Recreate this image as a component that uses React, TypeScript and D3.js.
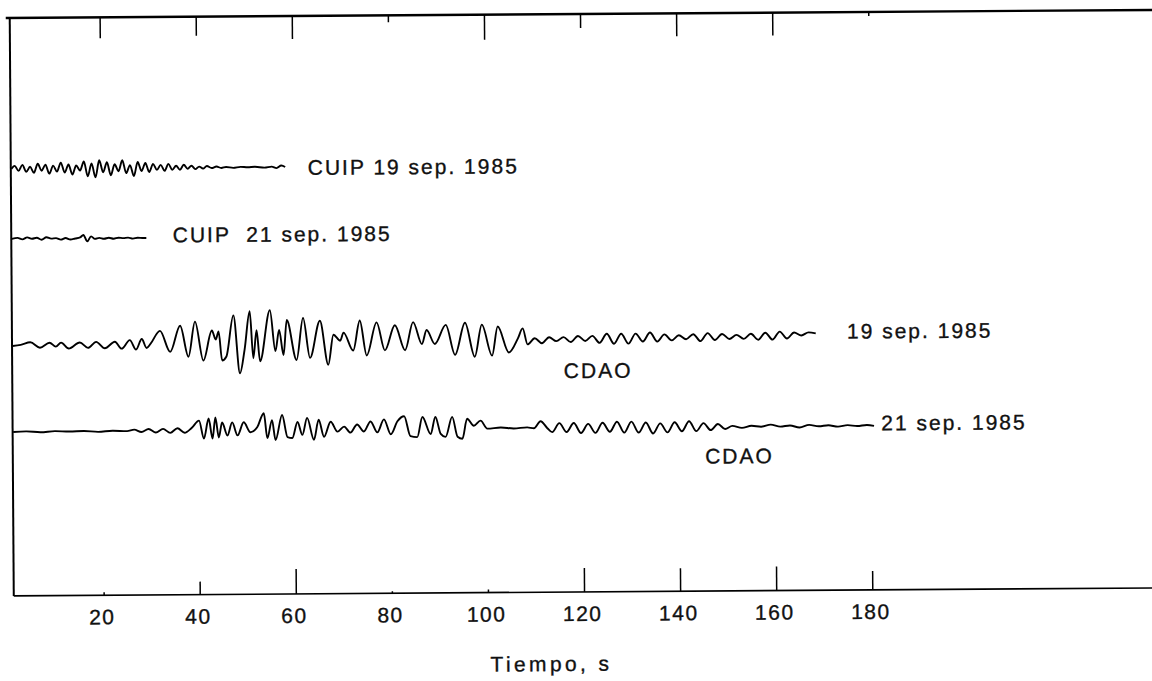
import * as d3 from "d3";

// tiempo (s) y amplitud (px) de los puntos de inflexión de cada registro
const cuip19T = [1.3, 2, 2.8, 3.6, 4.4, 5.2, 6, 6.8, 7.6, 8.4, 9.2, 10, 10.8, 11.6, 12.4, 13.2, 14, 14.8, 15.6, 16.4, 17.2, 18, 18.8, 19.6, 20.4, 21.2, 22, 22.8, 23.6, 24.4, 25.2, 26, 26.8, 27.6, 28.4, 29.2, 30, 30.8, 31.6, 32.4, 33.2, 34, 34.8, 35.6, 36.4, 37.2, 38, 38.8, 39.6, 40.4, 41.2, 42, 43, 44, 45, 46, 47.5, 49, 50.5, 52, 54, 55.5, 56.5, 57.5, 58.3];
const cuip19A = [0, 3, -2, 4, -3, 2, -4, 5, -2, 4, -5, 3, -3, 6, -4, 4, -6, 3, -2, 7, -8, 5, -9, 8, -4, 6, -7, 4, -3, 8, -5, 3, -8, 6, -3, 5, -4, 4, -2, 3, -3, 4, -2, 2, -2, 3, -1, 2, -1.5, 1, -1, 1.5, -0.5, 1, -0.5, 0.5, -0.5, 0.5, 0, 0.5, -0.5, 0.5, -1, 1.5, 0];

const cuip21T = [1.3, 2.5, 3.5, 4.5, 5.5, 6.5, 7.5, 8.5, 9.5, 10.5, 11.5, 12.5, 13.5, 14.5, 15.5, 16.2, 17, 17.8, 18.6, 19.5, 20.5, 21.5, 22.5, 23.5, 24.5, 25.5, 26.5, 27.5, 28.5, 29.3];
const cuip21A = [0, 1, -0.5, 1.5, 0, 1, -1, 1.5, 0, 0.5, -1, 0.5, -1, 0, 1, 3.5, -3, 2, -0.5, 0.5, -0.5, 0.5, -0.5, 0.5, 0, 0.5, -0.5, 0.3, 0, 0];

const cdao19T = [1.3, 3, 5, 7, 9, 10.3, 11.4, 13, 15.3, 17, 18.7, 20.5, 22.6, 24, 25.7, 27, 28.2, 29.2, 30, 32, 34.1, 36.2, 37.9, 39.3, 41, 42.8, 43.6, 44.2, 44.9, 45.8, 47.3, 48.6, 49.6, 50.7, 51.4, 52.1, 52.8, 54.9, 56, 56.8, 57.7, 58.4, 60.4, 61.8, 63.2, 65.3, 67, 68.1, 69.5, 70.2, 72.2, 73.6, 75, 77.1, 78.8, 80.9, 83, 84.7, 86.5, 87.5, 89.2, 91.5, 93.4, 95.5, 97.5, 99, 101.1, 102.3, 104.6, 106.5, 107.5, 108.5, 110, 111.5, 113, 114.5, 116, 117.5, 119, 120.5, 122, 123.5, 125, 126.5, 128, 129.5, 131, 132.5, 134, 135.5, 137, 138.5, 140, 141.5, 143, 144.5, 146, 147.5, 149, 150.5, 152, 153.5, 155, 156.5, 158, 159.5, 161, 162.5, 164, 165.5, 167, 168.5];
const cdao19A = [0, 1, 3.5, -2, 3, -1, 3, -3, 3, -2.5, 3.5, -3, 3.5, -3.5, 5, -4.5, 6, -3, 1, 14, -7, 19, -12, 23, -16, 14, 5, 13, -16, -12, 29, -29, -5, 33, -14, 14, -17, 34, -7, 14, -11, 24, -16, 26, -14, 23, -21, 9, 3, 11, -7, 23, -12, 21, -7, 18, -7, 21, -1, 13, -1, 18, -12, 20, -14, 18, -13, 16, -10, 4, 14, -2, 4, -1, 5, 1, 5, 0, 6, 1, 6, -1, 8, -2, 8, -2, 8, 0, 9, 0, 7, 1, 6, 2, 7, 0, 8, 1, 7, 2, 6, 2, 7, 1, 8, 1, 9, 2, 8, 5, 8, 7];

const cdao21T = [1.3, 4, 7, 10, 13, 16, 19, 22, 25, 26.5, 28, 29.5, 31, 32.5, 34, 35.5, 37, 38.5, 40, 41, 42, 42.8, 43.4, 44.1, 44.8, 45.9, 46.9, 48, 49.3, 50.7, 52.1, 53.5, 54.2, 55.2, 55.9, 57.3, 58.4, 59.4, 60.5, 61.5, 62.5, 63.9, 64.9, 66, 67.4, 68.8, 70.2, 71.5, 72.9, 74.3, 75.7, 77.1, 78.5, 79.9, 81.3, 82.7, 84, 85.4, 86.5, 88.2, 89.2, 90.3, 91.3, 92.7, 93.8, 94.8, 95.8, 97.2, 98.6, 100, 102.8, 105.5, 108.3, 109.7, 111.1, 112.5, 113.5, 115, 116.5, 118, 119.5, 121, 122.5, 124, 125.5, 127, 128.5, 130, 131.5, 133, 134.5, 136, 137.5, 139, 140.5, 142, 143.5, 145, 146.5, 148, 149.5, 151, 153, 155, 157, 159, 161, 163, 165, 167, 169, 171, 173, 175, 177, 179, 180.5];
const cdao21A = [0, 0.5, -0.5, 0.5, 0, 0.5, -0.5, 0.5, 0, 1.5, -1, 2, -1.5, 2, -2, 2.5, -2, 3, 10, -8, 12, -8, 13, -7, 8, -5, 8, -5, 8, -2, 3, 17, -8, 10, -10, 15, -7, -8, 8, -5, 12, -10, 10, -7, 8, -2, 3, -3, 5, -2, 8, -3, 10, -5, 8, 13, -7, -8, 12, -5, 12, -5, -8, 12, -8, -10, 10, 3, 8, 0, 1, 0, 1, 0, 7, 0, -4, 5, -4, 5, -5, 4, -5, 5, -4, 6, -5, 6, -5, 5, -6, 4, -5, 5, -4, 6, -4, 4, -3, 3, -2, 1, -1, 1, 0, 2, 0, 1, -1, 1.5, 0, 1, -0.5, 1, 0, 1, 0];

const seriesNames = ["CUIP 19", "CUIP 21", "CDAO 19", "CDAO 21"];
const seriesT = [cuip19T, cuip21T, cdao19T, cdao21T];
const seriesA = [cuip19A, cuip21A, cdao19A, cdao21A];

const tickValues = [20, 40, 60, 80, 100, 120, 140, 160, 180];
const tickLabels = ["20", "40", "60", "80", "100", "120", "140", "160", "180"];
const axisTitle = "Tiempo, s";

// rótulos: texto y tiempo donde empieza
const labelText = ["CUIP 19 sep. 1985", "CUIP  21 sep. 1985", "19 sep. 1985", "CDAO", "21 sep. 1985", "CDAO"];
const labelT = [63, 34.8, 175, 116, 182, 145.3];

// estilo / disposición
const W = 1152;
const H = 681;
const rowBase = [427, 357, 250, 164]; // línea base de cada traza (unidades del eje y)
const labelRow = [0, 1, 2, 2, 3, 3];
const labelDy = [8, 4.5, -1.5, 36, 4.5, 36.5];
const topTickLen = [21, 19, 23, 7, 25, 14, 23, 23, 4];
const botTickLen = [3, 13, 25, 2, 3, 24, 23, 24, 19];
const font = "'Liberation Sans', Arial, sans-serif";

export default function App() {
  const x = d3.scaleLinear().domain([0, 240]).range([6.3, 6.3 + 240 * 4.804]);
  const y = d3.scaleLinear().domain([0, 578]).range([592, 14]);
  const left = 12;
  const top = y(578);
  const bottom = y(0);

  const line = d3
    .line<[number, number]>()
    .x(d => x(d[0]))
    .y(d => d[1])
    .curve(d3.curveMonotoneX);

  const textStyle = {
    fontFamily: font,
    fontSize: 21,
    fill: "#111",
    stroke: "#111",
    strokeWidth: 0.35,
    whiteSpace: "pre" as const,
  };

  return (
    <svg
      width={W}
      height={H}
      viewBox={`0 0 ${W} ${H}`}
      style={{ position: "absolute", left: 0, top: 0, background: "#fff" }}
    >
      <g transform="rotate(-0.4 576 340)">
        {/* marco */}
        <line x1={8} x2={W + 10} y1={top} y2={top} stroke="#000" strokeWidth={2.4} />
        <line x1={left} x2={left} y1={top} y2={bottom} stroke="#000" strokeWidth={2} />
        <line x1={left} x2={W + 10} y1={bottom} y2={bottom} stroke="#000" strokeWidth={1.7} />

        {tickValues.map((v, i) => (
          <g key={v}>
            <line x1={x(v)} x2={x(v)} y1={top} y2={top + topTickLen[i]} stroke="#000" strokeWidth={1.5} />
            <line x1={x(v)} x2={x(v)} y1={bottom} y2={bottom - botTickLen[i]} stroke="#000" strokeWidth={1.5} />
            <text x={x(v) - 2} y={621} textAnchor="middle" letterSpacing={1.5} style={textStyle}>
              {tickLabels[i]}
            </text>
          </g>
        ))}

        <text x={x(100.3)} y={671} letterSpacing={3.4} style={textStyle}>
          {axisTitle}
        </text>

        {seriesT.map((ts, k) => {
          const pts: [number, number][] = ts.map((t, i) => [t, y(rowBase[k] + seriesA[k][i])]);
          return (
            <path
              key={seriesNames[k]}
              d={line(pts) || ""}
              fill="none"
              stroke="#000"
              strokeWidth={1.9}
              strokeLinejoin="round"
            />
          );
        })}

        {labelText.map((s, i) => (
          <text
            key={i}
            x={x(labelT[i])}
            y={y(rowBase[labelRow[i]]) + labelDy[i]}
            letterSpacing={2}
            style={textStyle}
          >
            {s}
          </text>
        ))}
      </g>
    </svg>
  );
}
